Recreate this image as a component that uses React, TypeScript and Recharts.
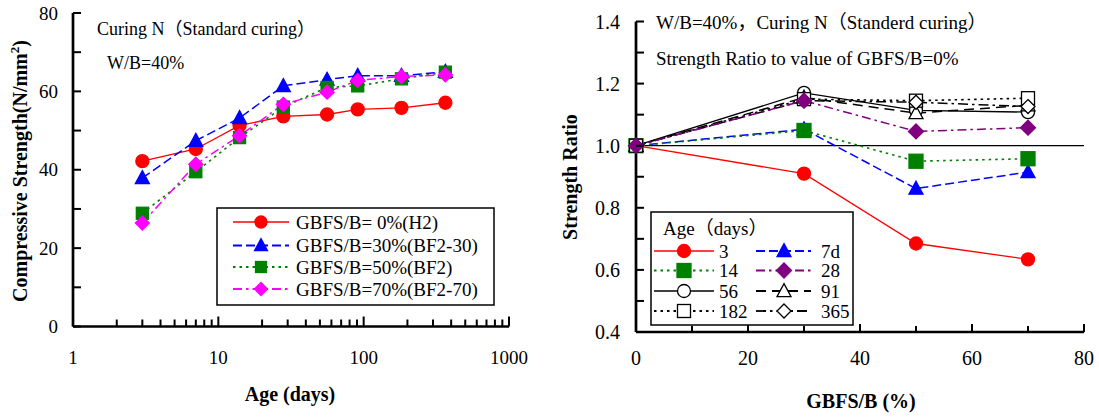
import React from 'react';
import { LineChart, Line, XAxis, YAxis, ReferenceLine, Legend, Label } from 'recharts';

const FONT = "Liberation Serif, Times New Roman, Times, Nimbus Roman, DejaVu Serif, serif, Noto Sans CJK JP";

// ---------- Left chart data: compressive strength vs age ----------
const ages = [3, 7, 14, 28, 56, 91, 182, 365];
const strengthH2 = [42.2, 45.3, 51.3, 53.6, 54.1, 55.4, 55.8, 57.1];
const strengthBF2_30 = [37.9, 47.4, 53.2, 61.4, 63.0, 64.0, 64.0, 65.0];
const strengthBF2 = [28.9, 39.5, 48.2, 56.0, 61.0, 61.4, 63.2, 64.9];
const strengthBF2_70 = [26.4, 41.4, 48.7, 56.7, 59.8, 62.8, 63.8, 64.2];
const ageTicks = [1, 2, 3, 4, 5, 6, 7, 8, 9, 10, 20, 30, 40, 50, 60, 70, 80, 90, 100, 200, 300, 400, 500, 600, 700, 800, 900, 1000];
const ageTickLabels = [1, 10, 100, 1000];
const strengthTicks = [0, 10, 20, 30, 40, 50, 60, 70, 80];
const strengthTickLabels = [0, 20, 40, 60, 80];
const leftNames = ['GBFS/B= 0%(H2)', 'GBFS/B=30%(BF2-30)', 'GBFS/B=50%(BF2)', 'GBFS/B=70%(BF2-70)'];

// ---------- Right chart data: strength ratio vs GBFS/B ----------
const gbfsLevels = [0, 30, 50, 70];
const ratioDay3 = [1.0, 0.91, 0.685, 0.634];
const ratioDay7 = [1.0, 1.053, 0.862, 0.915];
const ratioDay14 = [1.0, 1.049, 0.95, 0.958];
const ratioDay28 = [1.0, 1.145, 1.046, 1.058];
const ratioDay56 = [1.0, 1.17, 1.114, 1.108];
const ratioDay91 = [1.0, 1.155, 1.105, 1.13];
const ratioDay182 = [1.0, 1.15, 1.145, 1.153];
const ratioDay365 = [1.0, 1.145, 1.14, 1.126];
const gbfsTicks = [0, 10, 20, 30, 40, 50, 60, 70, 80];
const gbfsTickLabels = [0, 20, 40, 60, 80];
const ratioTicks = [0.4, 0.5, 0.6, 0.7, 0.8, 0.9, 1.0, 1.1, 1.2, 1.3, 1.4];
const ratioTickLabels = ['0.4', '0.6', '0.8', '1.0', '1.2', '1.4'];
const rightNames = ['3', '7d', '14', '28', '56', '91', '182', '365'];

const leftData = ages.map((a, i) => ({
  age: a,
  h2: strengthH2[i],
  bf30: strengthBF2_30[i],
  bf50: strengthBF2[i],
  bf70: strengthBF2_70[i],
}));

const rightData = gbfsLevels.map((g, i) => ({
  gbfs: g,
  d3: ratioDay3[i],
  d7: ratioDay7[i],
  d14: ratioDay14[i],
  d28: ratioDay28[i],
  d56: ratioDay56[i],
  d91: ratioDay91[i],
  d182: ratioDay182[i],
  d365: ratioDay365[i],
}));

type Shape = 'circle' | 'triangle' | 'square' | 'diamond';
interface SeriesStyle {
  key: string;
  name: string;
  color: string;
  dash?: string;
  width: number;
  shape: Shape;
  fill: string;
  size: number;
}

const leftSeries: SeriesStyle[] = [
  { key: 'h2', name: leftNames[0], color: '#FF0000', width: 1.3, shape: 'circle', fill: '#FF0000', size: 13 },
  { key: 'bf30', name: leftNames[1], color: '#0000FF', dash: '9 4', width: 1.5, shape: 'triangle', fill: '#0000FF', size: 14 },
  { key: 'bf50', name: leftNames[2], color: '#008000', dash: '2.5 4', width: 1.6, shape: 'square', fill: '#008000', size: 12 },
  { key: 'bf70', name: leftNames[3], color: '#FF00FF', dash: '9 4 2.5 4', width: 1.5, shape: 'diamond', fill: '#FF00FF', size: 14 },
];

const rightSeries: SeriesStyle[] = [
  { key: 'd3', name: rightNames[0], color: '#FF0000', width: 1.3, shape: 'circle', fill: '#FF0000', size: 13 },
  { key: 'd7', name: rightNames[1], color: '#0000FF', dash: '9 4', width: 1.5, shape: 'triangle', fill: '#0000FF', size: 14 },
  { key: 'd14', name: rightNames[2], color: '#008000', dash: '2.5 4', width: 1.6, shape: 'square', fill: '#008000', size: 14 },
  { key: 'd56', name: rightNames[4], color: '#000000', width: 1.3, shape: 'circle', fill: '#FFFFFF', size: 13 },
  { key: 'd91', name: rightNames[5], color: '#000000', dash: '10 6', width: 1.5, shape: 'triangle', fill: '#FFFFFF', size: 14 },
  { key: 'd182', name: rightNames[6], color: '#000000', dash: '2.5 4', width: 1.6, shape: 'square', fill: '#FFFFFF', size: 13 },
  { key: 'd365', name: rightNames[7], color: '#000000', dash: '10 4 2.5 4', width: 1.5, shape: 'diamond', fill: '#FFFFFF', size: 14 },
  { key: 'd28', name: rightNames[3], color: '#800080', dash: '9 4 2.5 4', width: 1.5, shape: 'diamond', fill: '#800080', size: 15 },
];

function Marker({ shape, cx, cy, size, fill, stroke }: { shape: Shape; cx: number; cy: number; size: number; fill: string; stroke: string }) {
  const r = size / 2;
  const sw = 1.3;
  if (shape === 'circle') return <circle cx={cx} cy={cy} r={r} fill={fill} stroke={stroke} strokeWidth={sw} />;
  if (shape === 'square') return <rect x={cx - r} y={cy - r} width={size} height={size} fill={fill} stroke={stroke} strokeWidth={sw} />;
  if (shape === 'triangle')
    return <polygon points={`${cx},${cy - r * 1.05} ${cx + r},${cy + r * 0.8} ${cx - r},${cy + r * 0.8}`} fill={fill} stroke={stroke} strokeWidth={sw} />;
  return <polygon points={`${cx},${cy - r} ${cx + r},${cy} ${cx},${cy + r} ${cx - r},${cy}`} fill={fill} stroke={stroke} strokeWidth={sw} />;
}

const makeDot = (s: SeriesStyle) => (p: any) => {
  if (p.cx == null || p.cy == null) return <g key={`e-${s.key}-${p.index}`} />;
  return (
    <g key={`m-${s.key}-${p.index}`}>
      <Marker shape={s.shape} cx={p.cx} cy={p.cy} size={s.size} fill={s.fill} stroke={s.color} />
    </g>
  );
};

// ---------- Ticks ----------
const LogXTick = (props: any) => {
  const { x, y, payload } = props;
  const v = payload.value;
  const major = ageTickLabels.includes(v);
  return (
    <g>
      <line x1={x} x2={x} y1={y} y2={y - (major ? 10 : 7)} stroke="#000" strokeWidth={2} />
      {major && (
        <text x={x} y={y + 37.5} textAnchor="middle" fontFamily={FONT} fontSize={19} fill="#000">
          {v}
        </text>
      )}
    </g>
  );
};

const StrengthYTick = (props: any) => {
  const { x, y, payload } = props;
  const v = payload.value;
  const major = strengthTickLabels.includes(v);
  return (
    <g>
      <line x1={x} x2={x + 8} y1={y} y2={y} stroke="#000" strokeWidth={2} />
      {major && (
        <text x={x - 15} y={y} dy="0.35em" textAnchor="end" fontFamily={FONT} fontSize={19} fill="#000">
          {v}
        </text>
      )}
    </g>
  );
};

const GbfsXTick = (props: any) => {
  const { x, y, payload } = props;
  const v = payload.value;
  const major = gbfsTickLabels.includes(v);
  return (
    <g>
      <line x1={x} x2={x} y1={y} y2={y - (major ? 8 : 6)} stroke="#000" strokeWidth={2} />
      {major && (
        <text x={x} y={y + 33} textAnchor="middle" fontFamily={FONT} fontSize={20} fill="#000">
          {v}
        </text>
      )}
    </g>
  );
};

const RatioYTick = (props: any) => {
  const { x, y, payload } = props;
  const label = Number(payload.value).toFixed(1);
  const major = ratioTickLabels.includes(label);
  return (
    <g>
      <line x1={x} x2={x + 8} y1={y} y2={y} stroke="#000" strokeWidth={2} />
      {major && (
        <text x={x - 16} y={y} dy="0.35em" textAnchor="end" fontFamily={FONT} fontSize={20} fill="#000">
          {label}
        </text>
      )}
    </g>
  );
};

// ---------- Legends ----------
const LeftLegendContent = () => (
  <svg width={280} height={100} style={{ display: 'block' }}>
    <rect x={1} y={1} width={277} height={97} fill="#FFFFFF" stroke="#000" strokeWidth={1.5} />
    {leftSeries.map((s, i) => {
      const cy = [15, 38.5, 60, 82][i];
      return (
        <g key={s.key}>
          <line x1={17} x2={73} y1={cy} y2={cy} stroke={s.color} strokeWidth={s.width + 0.3} strokeDasharray={s.dash} />
          <Marker shape={s.shape} cx={45} cy={cy} size={s.size - 1} fill={s.fill} stroke={s.color} />
          <text x={80} y={cy} dy="0.35em" fontFamily={FONT} fontSize={19} fill="#000">
            {s.name}
          </text>
        </g>
      );
    })}
  </svg>
);

const rightLegendOrder = ['d3', 'd7', 'd14', 'd28', 'd56', 'd91', 'd182', 'd365'];
const RightLegendContent = () => (
  <svg width={205} height={116} style={{ display: 'block' }}>
    <rect x={1} y={1} width={202} height={113} fill="#FFFFFF" stroke="#000" strokeWidth={1.5} />
    <text x={13} y={17} dy="0.35em" fontFamily={FONT} fontSize={19} fill="#000">
      Age（days）
    </text>
    {rightLegendOrder.map((k, i) => {
      const s = rightSeries.find((r) => r.key === k) as SeriesStyle;
      const col = i % 2;
      const row = Math.floor(i / 2);
      const cy = [40, 59.5, 80, 100][row];
      const lx1 = col === 0 ? 4 : 106;
      const lx2 = col === 0 ? 64 : 161;
      const mx = col === 0 ? 34 : 134;
      const tx = col === 0 ? 69 : 171;
      return (
        <g key={k}>
          <line x1={lx1} x2={lx2} y1={cy} y2={cy} stroke={s.color} strokeWidth={s.width + 0.3} strokeDasharray={s.dash} />
          <Marker shape={s.shape} cx={mx} cy={cy} size={s.size} fill={s.fill} stroke={s.color} />
          <text x={tx} y={cy} dy="0.35em" fontFamily={FONT} fontSize={19} fill="#000">
            {s.name}
          </text>
        </g>
      );
    })}
  </svg>
);

const axisLineStyle = { stroke: '#000', strokeWidth: 2.7 };

export default function App() {
  return (
    <div style={{ position: 'absolute', left: 0, top: 0, width: 1099, height: 418, background: '#FFFFFF', overflow: 'hidden', fontFamily: FONT }}>
      {/* Left chart */}
      <div style={{ position: 'absolute', left: 0, top: 0 }}>
        <LineChart width={560} height={418} data={leftData} margin={{ top: 13, right: 51, bottom: 51.5, left: 13 }}>
          <XAxis
            dataKey="age"
            type="number"
            scale="log"
            domain={[1, 1000]}
            ticks={ageTicks}
            interval={0}
            tickLine={false}
            tickSize={0}
            tickMargin={0}
            tick={(p: any) => <LogXTick {...p} />}
            axisLine={axisLineStyle}
            height={40}
          >
            <Label
              content={() => (
                <text x={290} y={401} textAnchor="middle" fontFamily={FONT} fontSize={20} fontWeight="bold" fill="#000">
                  Age (days)
                </text>
              )}
            />
          </XAxis>
          <YAxis
            type="number"
            domain={[0, 80]}
            ticks={strengthTicks}
            interval={0}
            tickLine={false}
            tickSize={0}
            tickMargin={0}
            tick={(p: any) => <StrengthYTick {...p} />}
            axisLine={axisLineStyle}
            width={60}
          >
            <Label
              content={() => (
                <text
                  x={27}
                  y={171}
                  transform="rotate(-90, 27, 171)"
                  textAnchor="middle"
                  fontFamily={FONT}
                  fontSize={20}
                  fontWeight="bold"
                  fill="#000"
                >
                  Compressive Strength(N/mm
                  <tspan dy={-8} fontSize={13}>
                    2
                  </tspan>
                  <tspan dy={8}>)</tspan>
                </text>
              )}
            />
          </YAxis>
          {leftSeries.map((s) => (
            <Line
              key={s.key}
              dataKey={s.key}
              name={s.name}
              type="linear"
              stroke={s.color}
              strokeWidth={s.width}
              strokeDasharray={s.dash}
              dot={makeDot(s)}
              activeDot={false}
              isAnimationActive={false}
            />
          ))}
          <Legend
            layout="vertical"
            align="center"
            verticalAlign="middle"
            content={() => <LeftLegendContent />}
            wrapperStyle={{ left: 216, top: 207, width: 280, height: 100 }}
          />
        </LineChart>
      </div>

      {/* Right chart */}
      <div style={{ position: 'absolute', left: 540, top: 0 }}>
        <LineChart width={559} height={418} data={rightData} margin={{ top: 21.5, right: 15, bottom: 46, left: 36 }}>
          <XAxis
            dataKey="gbfs"
            type="number"
            domain={[0, 80]}
            ticks={gbfsTicks}
            interval={0}
            tickLine={false}
            tickSize={0}
            tickMargin={0}
            tick={(p: any) => <GbfsXTick {...p} />}
            axisLine={axisLineStyle}
            height={40}
          >
            <Label
              content={() => (
                <text x={321} y={408} textAnchor="middle" fontFamily={FONT} fontSize={20} fontWeight="bold" fill="#000">
                  GBFS/B (%)
                </text>
              )}
            />
          </XAxis>
          <YAxis
            type="number"
            domain={[0.4, 1.4]}
            ticks={ratioTicks}
            interval={0}
            tickLine={false}
            tickSize={0}
            tickMargin={0}
            tick={(p: any) => <RatioYTick {...p} />}
            axisLine={axisLineStyle}
            width={60}
          >
            <Label
              content={() => (
                <text
                  x={37}
                  y={177}
                  transform="rotate(-90, 37, 177)"
                  textAnchor="middle"
                  fontFamily={FONT}
                  fontSize={20}
                  fontWeight="bold"
                  fill="#000"
                >
                  Strength Ratio
                </text>
              )}
            />
          </YAxis>
          <ReferenceLine y={1} stroke="#000" strokeWidth={1.3} />
          {rightSeries.map((s) => (
            <Line
              key={s.key}
              dataKey={s.key}
              name={s.name}
              type="linear"
              stroke={s.color}
              strokeWidth={s.width}
              strokeDasharray={s.dash}
              dot={makeDot(s)}
              activeDot={false}
              isAnimationActive={false}
            />
          ))}
          <Legend
            layout="vertical"
            align="center"
            verticalAlign="middle"
            content={() => <RightLegendContent />}
            wrapperStyle={{ left: 110, top: 211, width: 205, height: 116 }}
          />
        </LineChart>
      </div>

      {/* Annotations */}
      <svg width={1099} height={418} style={{ position: 'absolute', left: 0, top: 0, pointerEvents: 'none' }}>
        <text x={97} y={35} fontFamily={FONT} fontSize={18} fill="#000">
          Curing N（Standard curing）
        </text>
        <text x={107} y={69} fontFamily={FONT} fontSize={18} fill="#000">
          W/B=40%
        </text>
        <text x={656} y={29} fontFamily={FONT} fontSize={19} fill="#000">
          W/B=40%，Curing N（Standerd curing）
        </text>
        <text x={656} y={65} fontFamily={FONT} fontSize={19} fill="#000">
          Strength Ratio to value of GBFS/B=0%
        </text>
      </svg>
    </div>
  );
}
